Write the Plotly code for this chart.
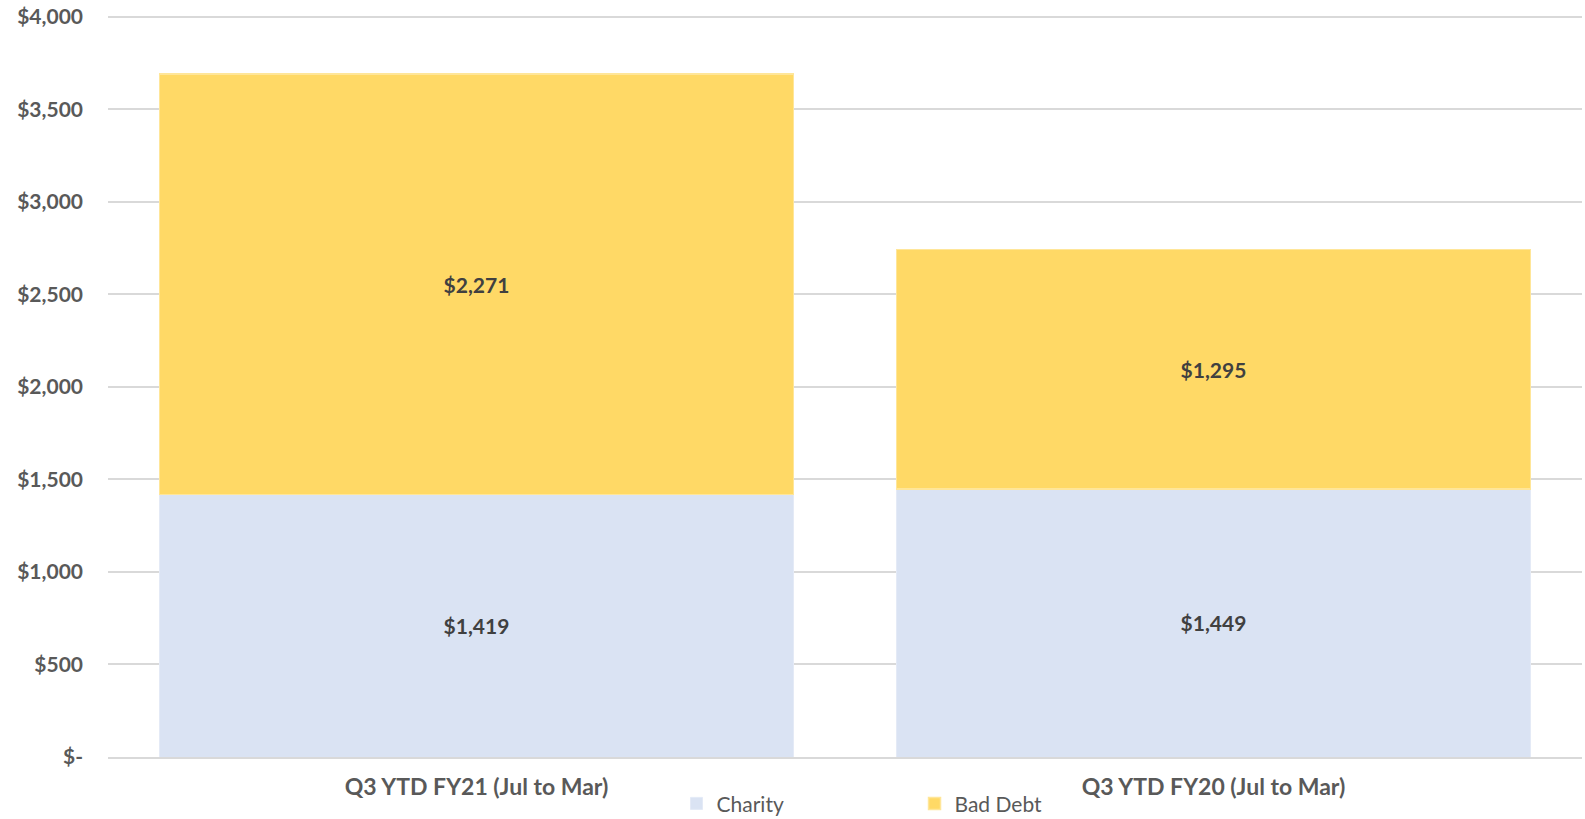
import plotly.graph_objects as go

categories = ["Q3 YTD FY21 (Jul to Mar)", "Q3 YTD FY20 (Jul to Mar)"]
charity = [1419, 1449]
bad_debt = [2271, 1295]
tick_vals = [0, 500, 1000, 1500, 2000, 2500, 3000, 3500, 4000]
tick_text = ["$-", "$500", "$1,000", "$1,500", "$2,000", "$2,500", "$3,000", "$3,500", "$4,000"]

FONT = "Lato, Open Sans, sans-serif"

fig = go.Figure()
fig.add_trace(go.Bar(
    x=categories, y=charity, name="Charity",
    marker=dict(color="#DAE3F3", line=dict(color="#E4EAF6", width=1)),
    text=[f"${v:,}" for v in charity], textposition="inside", insidetextanchor="middle",
    textfont=dict(family=FONT, size=21, color="#404040", weight="bold"),
))
fig.add_trace(go.Bar(
    x=categories, y=bad_debt, name="Bad Debt",
    marker=dict(color="#FFD966", line=dict(color="#FFE699", width=1.5)),
    text=[f"${v:,}" for v in bad_debt], textposition="inside", insidetextanchor="middle",
    textfont=dict(family=FONT, size=21, color="#404040", weight="bold"),
))

fig.update_layout(
    barmode="stack", bargap=0.14,
    width=1585, height=819,
    margin=dict(l=108, r=3, t=15, b=62, autoexpand=False),
    paper_bgcolor="white", plot_bgcolor="white",
    font=dict(family=FONT, color="#595959"),
    showlegend=True,
    legend=dict(orientation="h", traceorder="normal",
                x=0.3857, xanchor="left", y=-0.063, yanchor="middle",
                font=dict(family=FONT, size=21, color="#595959"),
                entrywidth=193, entrywidthmode="pixels", itemwidth=30,
                bgcolor="rgba(0,0,0,0)"),
)
fig.update_yaxes(
    range=[0, 4010], tickvals=tick_vals, ticktext=tick_text,
    showgrid=True, gridcolor="#D9D9D9", gridwidth=1.5,
    zeroline=False, showline=False, automargin=False,
    tickfont=dict(family=FONT, size=21, color="#595959", weight="bold"),
    ticklabelstandoff=24,
)
fig.update_xaxes(
    showline=True, linecolor="#D9D9D9", linewidth=1.5, automargin=False,
    tickfont=dict(family=FONT, size=23, color="#595959", weight="bold"),
    ticklabelstandoff=9,
)

fig.write_html(
    "out.html",
    config={"displayModeBar": False},
    post_script="document.body.style.margin='0';document.body.style.overflow='hidden';",
)
